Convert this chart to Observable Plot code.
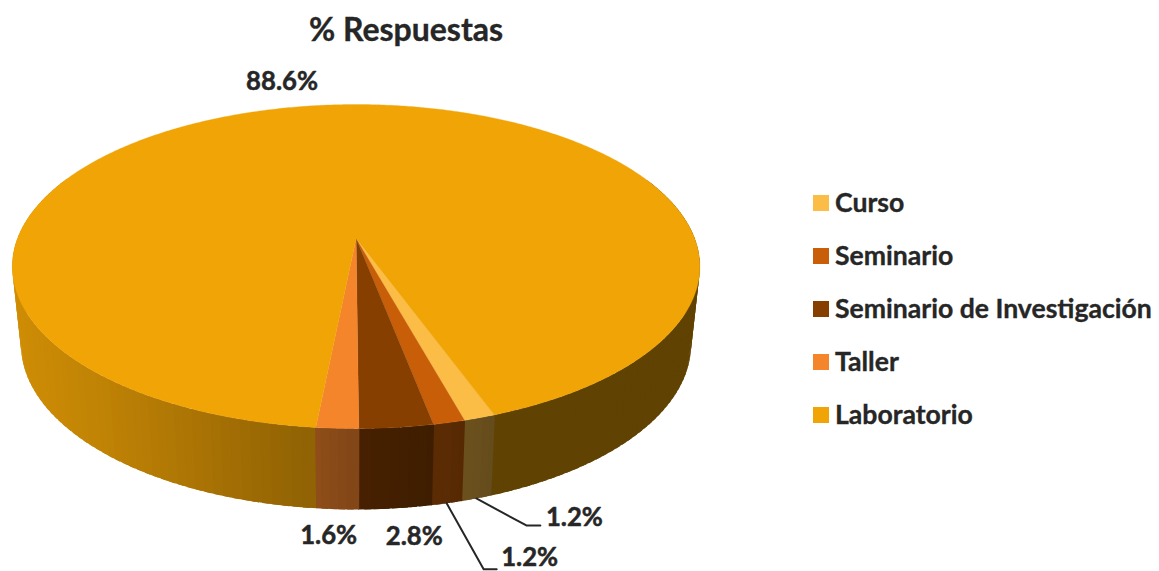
<!DOCTYPE html>
<html lang="es">
<head>
<meta charset="utf-8">
<script src="https://cdn.jsdelivr.net/npm/d3@7"></script>
<script src="https://cdn.jsdelivr.net/npm/@observablehq/plot@0.6"></script>
<style>
html,body{margin:0;padding:0;background:#fff}
#page{position:relative;width:1159px;height:571px;overflow:hidden;font-family:Lato,sans-serif;font-weight:700;color:#262626;-webkit-text-stroke:0.35px #262626}
#page svg{position:absolute;left:0;top:0}
#title{position:absolute;left:0;top:9px;width:812px;text-align:center;font-size:32px;line-height:40px}
#legend{position:absolute;left:813px;top:176px}
.row{height:53px;display:flex;align-items:center;font-size:26.6px;white-space:nowrap}
.row i{width:16px;height:16px;margin-right:6px;display:block}
.row span{position:relative;top:-1px}
</style>
</head>
<body>
<div id="page">
<div id="title">% Respuestas</div>
<div id="legend"></div>
</div>
<script>
const categorias = ["Curso","Seminario","Seminario de Investigación","Taller","Laboratorio"];
const porcentajes = [1.2,1.2,2.8,1.6,88.6];
const colores = ["#fbbd45","#c85f08","#873f00","#f5852b","#f1a406"];
const tituloValor = "%";

// label placement relative to the rim point at each slice's mid-angle
const desplazamiento = [
  {dx:98,dy:19,leader:[[0,0],[50,27],[64,27]],rim:"bottom"},
  {dx:83,dy:54,leader:[[0,0],[37,66],[50,66]],rim:"bottom"},
  {dx:19,dy:28,rim:"bottom"},
  {dx:-9,dy:27,rim:"bottom"},
  {dx:-38,dy:-24,rim:"top"}
];

// perspective of the disc: top and bottom planes
const k = 0.173;
const topPlane = {cx:355.6,cy:238,a:338.6,b:157.2};
const botPlane = {cx:355.5,cy:315.5,a:330,b:160};
const project = (p,ang) => {
  const u = Math.sin(ang), v = -Math.cos(ang), w = 1 - k*v;
  return [p.cx + p.a*u/w, p.cy + p.b*v/w];
};

const deg = Math.PI/180;
const arcs = d3.pie().value(d=>d).sort(null).startAngle(160*deg).endAngle(520*deg)(porcentajes);

// top faces
const faces = arcs.flatMap((s,i)=>{
  const n = Math.max(2,Math.ceil((s.endAngle-s.startAngle)/(0.5*deg)));
  const pts = [{id:i,x:topPlane.cx,y:topPlane.cy,color:colores[i]}];
  for(let j=0;j<=n;j++){
    const [x,y]=project(topPlane,s.startAngle+(s.endAngle-s.startAngle)*j/n);
    pts.push({id:i,x,y,color:colores[i]});
  }
  return pts;
});

// wall shading as a function of horizontal position
const light = d3.scaleLinear().domain([15,100,310,358,432,470,490,700]).range([.86,.80,.60,.52,.46,.42,.40,.40]).clamp(true);
const wallFacets = [];
arcs.forEach((s,i)=>{
  const span = s.endAngle-s.startAngle;
  const n = Math.max(2,Math.ceil(span/(1.5*deg)));
  for(let j=0;j<n;j++){
    const a0=s.startAngle+span*j/n, a1=s.startAngle+span*(j+1)/n;
    const mid=(a0+a1)/2;
    if(-Math.cos(mid) < -0.4) continue;            // back of the wall is hidden by the top face
    const ext=(j<n-1?0.5:0.08)*deg, ext0=(j>0?0.5:0.08)*deg; // overlap to hide antialiasing seams
    const q=[project(topPlane,a0-ext0),project(topPlane,a1+ext),project(botPlane,a1+ext),project(botPlane,a0-ext0)];
    const c=d3.rgb(colores[i]); const l=light(d3.mean(q,d=>d[0]));
    wallFacets.push({q,depth:-Math.cos(mid),color:d3.rgb(c.r*l,c.g*l,c.b*l).formatHex()});
  }
});
wallFacets.sort((a,b)=>a.depth-b.depth);
const walls = wallFacets.flatMap((f,id)=>f.q.map(([x,y])=>({id:"w"+id,x,y,color:f.color})));

// labels and leaders
const labels=[], leaders=[];
arcs.forEach((s,i)=>{
  const o=desplazamiento[i], mid=(s.startAngle+s.endAngle)/2;
  const [x,y]=project(o.rim==="top"?topPlane:botPlane,mid);
  labels.push({x:x+o.dx,y:y+o.dy,text:d3.format(".1f")(porcentajes[i])+tituloValor});
  if(o.leader) o.leader.forEach(([dx,dy])=>leaders.push({id:i,x:x+dx,y:y+dy}));
});

const plot = Plot.plot({
  width:1159,height:571,margin:0,
  x:{domain:[0,1159],range:[0,1159],axis:null},
  y:{domain:[0,571],range:[0,571],axis:null},
  color:{type:"identity"},
  marks:[
    Plot.line(walls,{x:"x",y:"y",z:"id",fill:"color",stroke:"none",curve:"linear-closed"}),
    Plot.line(faces,{x:"x",y:"y",z:"id",fill:"color",stroke:"color",strokeWidth:0.3,curve:"linear-closed"}),
    Plot.line(leaders,{x:"x",y:"y",z:"id",stroke:"#262626",strokeWidth:2,curve:"linear"}),
    Plot.text(labels,{x:"x",y:"y",text:"text",fontFamily:"Lato, sans-serif",fontWeight:700,fontSize:25.7,fill:"#262626",stroke:"#262626",strokeWidth:0.5})
  ]
});
document.getElementById("page").prepend(plot);

const legend=d3.select("#legend");
categorias.forEach((c,i)=>{
  const r=legend.append("div").attr("class","row");
  r.append("i").style("background",colores[i]);
  r.append("span").text(c);
});
</script>
</body>
</html>
